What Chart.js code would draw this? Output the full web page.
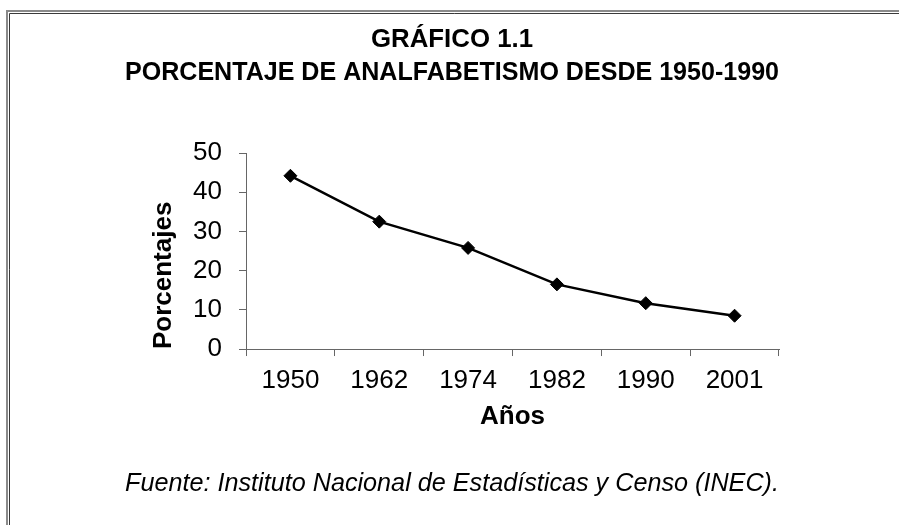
<!DOCTYPE html>
<html>
<head>
<meta charset="utf-8">
<script src="https://cdn.jsdelivr.net/npm/chart.js@4/dist/chart.umd.min.js"></script>
<style>
  html, body { margin: 0; padding: 0; background: #fff; }
  #wrap { width: 899px; height: 525px; position: relative; }
</style>
</head>
<body>
<div id="wrap"><canvas id="c" width="899" height="525"></canvas></div>
<script>
const years = ['1950', '1962', '1974', '1982', '1990', '2001'];
const percentages = [44.2, 32.5, 25.8, 16.5, 11.7, 8.5];
const titleLines = ['GRÁFICO 1.1', 'PORCENTAJE DE ANALFABETISMO DESDE 1950-1990'];
const yAxisTitle = 'Porcentajes';
const xAxisTitle = 'Años';
const sourceNote = 'Fuente: Instituto Nacional de Estadísticas y Censo (INEC).';

const FONT = "'Liberation Sans', Arial, sans-serif";

const framePlugin = {
  id: 'frame',
  beforeDraw(chart) {
    const ctx = chart.ctx;
    ctx.save();
    ctx.fillStyle = '#fff';
    ctx.fillRect(0, 0, chart.width, chart.height);
    ctx.strokeStyle = '#8a8a8a';
    ctx.lineWidth = 2;
    ctx.beginPath();
    ctx.moveTo(7, chart.height + 5);
    ctx.lineTo(7, 11);
    ctx.lineTo(chart.width + 5, 11);
    ctx.stroke();
    ctx.strokeStyle = '#3a3a3a';
    ctx.lineWidth = 1;
    ctx.beginPath();
    ctx.moveTo(9.5, chart.height + 5);
    ctx.lineTo(9.5, 13.5);
    ctx.lineTo(chart.width + 5, 13.5);
    ctx.stroke();
    ctx.restore();
  }
};

new Chart(document.getElementById('c'), {
  type: 'line',
  data: {
    labels: years,
    datasets: [{
      data: percentages,
      borderColor: '#000',
      backgroundColor: '#000',
      borderWidth: 2.5,
      pointStyle: 'rectRot',
      pointRadius: 6.5,
      pointHoverRadius: 6.5,
      pointBorderWidth: 1,
      pointBackgroundColor: '#000',
      pointBorderColor: '#000',
      tension: 0,
      fill: false
    }]
  },
  options: {
    responsive: false,
    animation: false,
    events: [],
    layout: { padding: { left: 125, right: 120, top: 0, bottom: 0 } },
    plugins: {
      legend: { display: false },
      tooltip: { enabled: false },
      title: {
        display: true,
        text: titleLines,
        color: '#000',
        font: { family: FONT, size: 25.8, weight: 'bold', lineHeight: 1.28 },
        padding: { top: 23, bottom: 64 }
      },
      subtitle: {
        display: true,
        position: 'bottom',
        text: sourceNote,
        color: '#000',
        font: { family: FONT, size: 25.8, style: 'italic', lineHeight: 1.2 },
        padding: { top: 28.5, bottom: 25.5 }
      }
    },
    scales: {
      x: {
        type: 'category',
        offset: true,
        afterFit(scale) { scale.height = 91; },
        grid: { offset: true, drawOnChartArea: false, drawTicks: true, tickLength: 7, color: '#666', lineWidth: 1 },
        border: { display: true, color: '#666', width: 1 },
        ticks: { color: '#000', font: { family: FONT, size: 26, lineHeight: 1.2 }, padding: 9, maxRotation: 0, autoSkip: false },
        title: { display: true, text: xAxisTitle, color: '#000', font: { family: FONT, size: 26, weight: 'bold', lineHeight: 1.2 }, padding: { top: 0, bottom: 7.4 } }
      },
      y: {
        min: 0,
        max: 50,
        afterFit(scale) { scale.width = 121; },
        grid: { drawOnChartArea: false, drawTicks: true, tickLength: 7, color: '#666', lineWidth: 1 },
        border: { display: true, color: '#666', width: 1 },
        ticks: { stepSize: 10, color: '#000', font: { family: FONT, size: 26, lineHeight: 1.2 }, padding: 17 },
        title: { display: true, text: yAxisTitle, align: 'start', color: '#000', font: { family: FONT, size: 26, weight: 'bold', lineHeight: 1.2 }, padding: { top: 23.4, bottom: 0 } }
      }
    }
  },
  plugins: [framePlugin]
});
</script>
</body>
</html>
